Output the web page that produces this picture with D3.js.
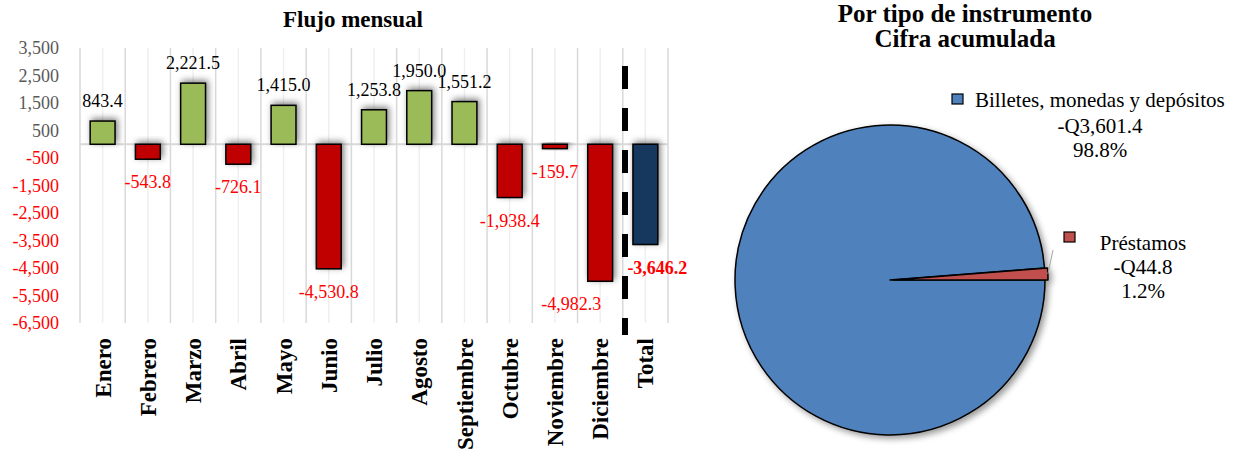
<!DOCTYPE html>
<html>
<head>
<meta charset="utf-8">
<script src="https://cdn.jsdelivr.net/npm/d3@7/dist/d3.min.js"></script>
<style>
  html, body { margin: 0; padding: 0; background: #fff; }
  svg { display: block; font-family: "Liberation Serif", "Times New Roman", serif; }
</style>
</head>
<body>
<svg id="chart" width="1237" height="455"></svg>
<script>
// ---- Data ----
const months = ["Enero","Febrero","Marzo","Abril","Mayo","Junio","Julio","Agosto","Septiembre","Octubre","Noviembre","Diciembre","Total"];
const flows = [843.4, -543.8, 2221.5, -726.1, 1415.0, -4530.8, 1253.8, 1950.0, 1551.2, -1938.4, -159.7, -4982.3, -3646.2];
const yTicks = [3500, 2500, 1500, 500, -500, -1500, -2500, -3500, -4500, -5500, -6500];

const instruments = ["Billetes, monedas y depósitos", "Préstamos"];
const instrumentValues = [3601.4, 44.8];
const instrumentLabels = ["-Q3,601.4", "-Q44.8"];
const instrumentPct = ["98.8%", "1.2%"];

const barTitle = "Flujo mensual";
const pieTitle = ["Por tipo de instrumento", "Cifra acumulada"];

// ---- Setup ----
const svg = d3.select("#chart");
const defs = svg.append("defs");
const f1 = defs.append("filter").attr("id","barShadow").attr("x","-50%").attr("y","-50%").attr("width","200%").attr("height","200%");
f1.append("feDropShadow").attr("dx",2).attr("dy",-2).attr("stdDeviation",3).attr("flood-color","#000").attr("flood-opacity",0.5);
const f2 = defs.append("filter").attr("id","pieShadow").attr("x","-20%").attr("y","-20%").attr("width","140%").attr("height","140%");
f2.append("feDropShadow").attr("dx",3).attr("dy",3).attr("stdDeviation",3).attr("flood-color","#000").attr("flood-opacity",0.4);

const hy = s => s.replace(/\u2212/g, "-");
const fmt = d => hy(d3.format(",.1f")(d));
const fmtTick = d => hy(d3.format(",")(d));

// ---- Bar chart ----
const x = d3.scaleBand().domain(months).range([80, 668]).paddingInner(0.45).paddingOuter(0.225);
const y = d3.scaleLinear().domain([-6500, 3500]).range([323, 48]);
const step = x.step();

const grid = svg.append("g");
// minor lines at category centers
grid.selectAll("line.minor").data(months).join("line")
  .attr("x1", d => x(d) + x.bandwidth()/2).attr("x2", d => x(d) + x.bandwidth()/2)
  .attr("y1", y(3500)).attr("y2", y(-6500))
  .attr("stroke", "#efefef").attr("stroke-width", 1.5);
// major lines at category boundaries
const bounds = d3.range(months.length + 1).map(i => 80 + i * step);
grid.selectAll("line.major").data(bounds).join("line")
  .attr("x1", d => d).attr("x2", d => d)
  .attr("y1", y(3500)).attr("y2", y(-6500))
  .attr("stroke", "#d9d9d9").attr("stroke-width", 1.5);

// y axis labels
const yAxis = d3.axisLeft(y).tickValues(yTicks).tickFormat(fmtTick).tickSize(0).tickPadding(0);
const ya = svg.append("g").attr("transform", "translate(59,0)").call(yAxis);
ya.select(".domain").remove();
ya.selectAll("text")
  .attr("font-family", "Liberation Serif, serif")
  .attr("font-size", 18)
  .attr("fill", d => d < 0 ? "#ff0000" : "#595959");

// zero line
svg.append("line").attr("x1", 80).attr("x2", 668).attr("y1", y(0)).attr("y2", y(0))
  .attr("stroke", "#d9d9d9").attr("stroke-width", 2);

// bars
const color = (d, i) => i === months.length - 1 ? "#17375e" : (d >= 0 ? "#9bbb59" : "#c00000");
svg.append("g").selectAll("rect").data(flows).join("rect")
  .attr("x", (d, i) => x(months[i]))
  .attr("width", x.bandwidth())
  .attr("y", d => y(Math.max(0, d)))
  .attr("height", d => Math.abs(y(d) - y(0)))
  .attr("fill", color)
  .attr("stroke", "#000").attr("stroke-width", 1.5)
  .attr("filter", "url(#barShadow)");

// dashed separator
svg.append("line").attr("x1", 625).attr("x2", 625).attr("y1", 66).attr("y2", 335)
  .attr("stroke", "#000").attr("stroke-width", 6).attr("stroke-dasharray", "23,19");

// data labels
const nudgeX = {11: -29, 12: 12};
svg.append("g").selectAll("text").data(flows).join("text")
  .attr("x", (d, i) => x(months[i]) + x.bandwidth()/2 + (nudgeX[i] || 0))
  .attr("y", d => d >= 0 ? y(d) - 14 : y(d) + 29)
  .attr("text-anchor", "middle")
  .attr("font-size", 18)
  .attr("font-weight", (d, i) => i === months.length - 1 ? "bold" : "normal")
  .attr("fill", d => d >= 0 ? "#000" : "#ff0000")
  .text(d => fmt(d));

// category labels
svg.append("g").selectAll("text").data(months).join("text")
  .attr("transform", d => `translate(${x(d) + x.bandwidth()/2},338) rotate(-90)`)
  .attr("dy", "0.35em")
  .attr("text-anchor", "end")
  .attr("font-size", 23)
  .attr("font-weight", "bold")
  .attr("fill", "#000")
  .text(d => d);

// bar title
svg.append("text").attr("x", 353).attr("y", 27).attr("text-anchor", "middle")
  .attr("font-size", 23).attr("font-weight", "bold").attr("fill", "#000").text(barTitle);

// ---- Pie chart ----
const cx = 890, cy = 280, r = 155;
const pie = d3.pie().sort(null).startAngle(Math.PI/2).endAngle(Math.PI/2 + 2*Math.PI);
const arcs = pie(instrumentValues);
const arc = d3.arc().innerRadius(0).outerRadius(r);
const pieColors = ["#4f81bd", "#c0504d"];
const explode = [0, 3];
const pg = svg.append("g").attr("transform", `translate(${cx},${cy})`).attr("filter", "url(#pieShadow)");
pg.selectAll("path").data(arcs).join("path")
  .attr("d", arc)
  .attr("transform", (d, i) => {
    const a = (d.startAngle + d.endAngle) / 2;
    return `translate(${Math.sin(a) * explode[i]},${-Math.cos(a) * explode[i]})`;
  })
  .attr("fill", (d, i) => pieColors[i])
  .attr("stroke", "#000").attr("stroke-width", 1.5).attr("stroke-linejoin", "round");

// leader line for small slice
const small = arcs[1];
const ma = (small.startAngle + small.endAngle) / 2;
svg.append("line")
  .attr("x1", cx + Math.sin(ma) * (r + 3)).attr("y1", cy - Math.cos(ma) * (r + 3))
  .attr("x2", 1053).attr("y2", 250)
  .attr("stroke", "#a6a6a6").attr("stroke-width", 1);

// pie labels
const pl = svg.append("g").attr("font-size", 21).attr("fill", "#000");
// Billetes
pl.append("rect").attr("x", 952).attr("y", 94).attr("width", 11).attr("height", 10)
  .attr("fill", pieColors[0]).attr("stroke", "#000").attr("stroke-width", 1.2);
pl.append("text").attr("x", 975).attr("y", 107).text(instruments[0]);
pl.append("text").attr("x", 1100).attr("y", 133).attr("text-anchor", "middle").text(instrumentLabels[0]);
pl.append("text").attr("x", 1100).attr("y", 157).attr("text-anchor", "middle").text(instrumentPct[0]);
// Préstamos
pl.append("rect").attr("x", 1064).attr("y", 232).attr("width", 11).attr("height", 10)
  .attr("fill", pieColors[1]).attr("stroke", "#000").attr("stroke-width", 1.2);
pl.append("text").attr("x", 1143).attr("y", 250).attr("text-anchor", "middle").text(instruments[1]);
pl.append("text").attr("x", 1143).attr("y", 274).attr("text-anchor", "middle").text(instrumentLabels[1]);
pl.append("text").attr("x", 1143).attr("y", 298).attr("text-anchor", "middle").text(instrumentPct[1]);

// pie title
svg.append("text").attr("x", 965).attr("y", 22).attr("text-anchor", "middle")
  .attr("font-size", 25).attr("font-weight", "bold").attr("fill", "#000").text(pieTitle[0]);
svg.append("text").attr("x", 965).attr("y", 47).attr("text-anchor", "middle")
  .attr("font-size", 25).attr("font-weight", "bold").attr("fill", "#000").text(pieTitle[1]);
</script>
</body>
</html>
